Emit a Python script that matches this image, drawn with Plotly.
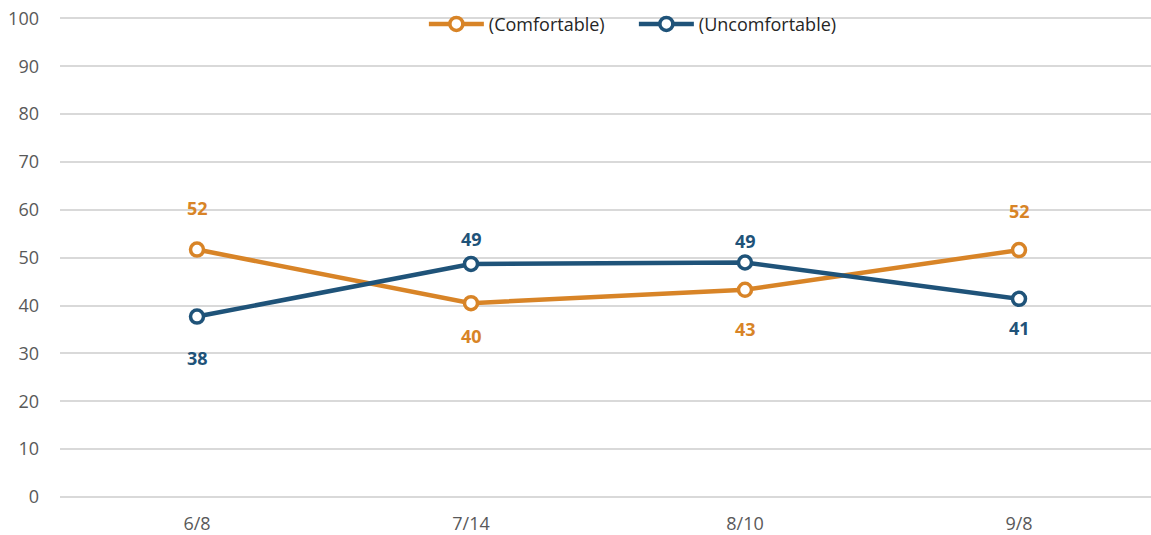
import plotly.graph_objects as go

# survey dates and shares (%)
dates = ['6/8', '7/14', '8/10', '9/8']
comfortable = [51.7, 40.5, 43.3, 51.6]
uncomfortable = [37.7, 48.7, 49.0, 41.4]

# label offsets in px (positive = above the point)
comf_shift = [42, -33, -39, 39]
uncomf_shift = [-41, 25, 22, -29]

ORANGE = '#D88427'
BLUE = '#1F5379'

fig = go.Figure()

for name, vals, color in [('(Comfortable)', comfortable, ORANGE),
                          ('(Uncomfortable)', uncomfortable, BLUE)]:
    fig.add_trace(go.Scatter(
        x=dates, y=vals, mode='lines+markers', name=name,
        line=dict(color=color, width=4.5),
        marker=dict(symbol='circle', size=13, color='white',
                    line=dict(color=color, width=3.5)),
        hoverinfo='x+y'))

# data labels
for vals, shifts, color in [(comfortable, comf_shift, ORANGE),
                            (uncomfortable, uncomf_shift, BLUE)]:
    for d, v, s in zip(dates, vals, shifts):
        fig.add_annotation(x=d, y=v, text=f'<b>{round(v)}</b>', showarrow=False,
                           yshift=s, font=dict(size=18, color=color,
                                               family='Open Sans'))

fig.update_layout(
    width=1156, height=535,
    paper_bgcolor='white', plot_bgcolor='white',
    margin=dict(l=60, r=0, t=17, b=38, autoexpand=False),
    font=dict(family='Open Sans', size=18, color='#595959'),
    legend=dict(orientation='h', x=0.332, xanchor='left', y=0.985,
                yanchor='middle', font=dict(size=18, color='#262626'),
                bgcolor='rgba(0,0,0,0)', itemwidth=55, entrywidth=140),
    showlegend=True,
)
fig.update_xaxes(type='category', range=[-0.5, 3.5], showgrid=False,
                 showline=False, ticks='', ticklabelstandoff=14,
                 tickfont=dict(size=18, color='#595959'))
fig.update_yaxes(range=[0, 100.3], dtick=10, showgrid=True, gridcolor='#d9d9d9',
                 gridwidth=1.5, zeroline=True, zerolinecolor='#d9d9d9',
                 zerolinewidth=1.5, ticks='', ticklabelstandoff=20,
                 ticklabeloverflow='allow',
                 tickfont=dict(size=18, color='#595959'))

# drop the default 8px body margin so the figure sits at the page corner
fig.write_html('out.html', config={'displayModeBar': False},
               post_script="document.body.style.margin='0';")
